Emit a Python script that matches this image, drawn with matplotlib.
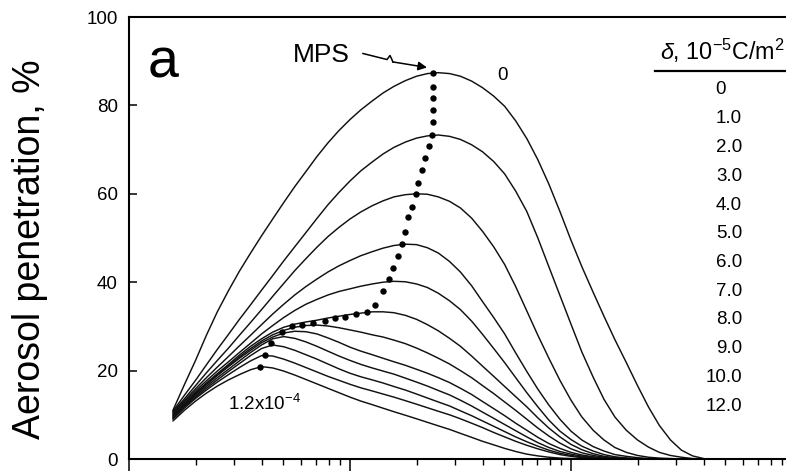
import matplotlib
matplotlib.use("Agg")
import matplotlib.pyplot as plt

plt.rcParams['font.family'] = ['Liberation Sans', 'DejaVu Sans']
plt.rcParams['mathtext.fontset'] = 'custom'
plt.rcParams['mathtext.rm'] = 'Liberation Sans'
plt.rcParams['mathtext.it'] = 'Liberation Sans:italic'
plt.rcParams['mathtext.default'] = 'regular'

# particle diameter (um)
diameter = [0.0158, 0.0178, 0.0200, 0.0224, 0.0251, 0.0282, 0.0316, 0.0355, 0.0398,
            0.0447, 0.0501, 0.0562, 0.0631, 0.0708, 0.0794, 0.0891, 0.100, 0.112,
            0.126, 0.141, 0.158, 0.178, 0.200, 0.224, 0.251, 0.282, 0.316, 0.355,
            0.398, 0.447, 0.501, 0.562, 0.631, 0.708, 0.794, 0.891, 1.00, 1.12,
            1.26, 1.41, 1.58, 1.78, 2.00, 2.24, 2.51, 2.82, 3.16, 3.55, 3.98]

# aerosol penetration (%) for each surface charge density delta (1e-5 C/m^2)
pen_0 = [11.0, 16.8, 22.3, 28.0, 33.3, 38.1, 42.5, 46.6, 50.5, 54.3, 58.0, 61.6, 65.0,
         68.4, 71.5, 74.3, 76.8, 79.0, 81.0, 82.8, 84.3, 85.6, 86.6, 87.2, 87.4, 87.2,
         86.6, 85.5, 84.0, 82.1, 79.8, 76.5, 72.5, 67.7, 62.2, 56.0, 49.5, 43.5, 37.7,
         32.3, 27.0, 21.8, 16.6, 11.8, 7.6, 4.3, 2.0, 0.7, 0.1]
pen_1 = [10.8, 14.4, 17.8, 21.3, 24.8, 28.2, 31.6, 34.9, 38.2, 41.5, 44.8, 48.0, 51.2,
         54.4, 57.5, 60.3, 62.9, 65.2, 67.2, 69.0, 70.5, 71.7, 72.6, 73.1, 73.3, 73.0,
         72.3, 71.1, 69.5, 67.3, 64.5, 60.6, 56.0, 50.0, 43.5, 37.0, 30.5, 24.2, 18.5,
         13.5, 9.5, 6.5, 4.3, 2.7, 1.5, 0.8, 0.4, 0.1, 0.0]
pen_2 = [10.6, 13.6, 16.6, 19.5, 22.3, 25.1, 28.0, 30.9, 33.8, 36.8, 39.7, 42.6, 45.3,
         47.9, 50.3, 52.4, 54.3, 55.9, 57.3, 58.4, 59.3, 59.8, 60.0, 59.9, 59.3, 58.3,
         56.8, 54.5, 51.5, 48.0, 44.0, 39.0, 33.5, 28.0, 22.8, 17.8, 13.3, 9.5, 6.5,
         4.3, 2.6, 1.5, 0.8, 0.4, 0.2, 0.1, 0.0, 0.0, 0.0]
pen_3 = [10.4, 13.2, 15.9, 18.4, 20.8, 23.2, 25.6, 28.0, 30.4, 32.8, 35.0, 37.1, 39.0,
         40.7, 42.3, 43.7, 44.9, 46.0, 46.9, 47.7, 48.3, 48.6, 48.5, 47.8, 46.6, 44.7,
         42.3, 39.2, 35.6, 32.0, 28.3, 24.0, 19.8, 15.8, 12.2, 9.0, 6.3, 4.3, 2.8,
         1.8, 1.0, 0.6, 0.3, 0.1, 0.05, 0.0, 0.0, 0.0, 0.0]
pen_4 = [10.2, 12.9, 15.4, 17.7, 19.9, 22.0, 24.1, 26.2, 28.3, 30.2, 32.0, 33.6, 35.0,
         36.1, 37.1, 37.9, 38.5, 39.1, 39.6, 40.0, 40.2, 40.1, 39.6, 38.8, 37.5, 35.8,
         33.8, 31.2, 28.2, 25.0, 21.8, 18.4, 15.0, 11.8, 8.8, 6.3, 4.4, 2.9, 1.8,
         1.0, 0.5, 0.25, 0.1, 0.0, 0.0, 0.0, 0.0, 0.0, 0.0]
pen_5 = [10.0, 12.6, 15.0, 17.2, 19.3, 21.4, 23.5, 25.5, 27.2, 28.7, 29.8, 30.5, 31.0,
         31.4, 31.9, 32.3, 32.7, 33.0, 33.3, 33.3, 33.1, 32.5, 31.6, 30.4, 29.0, 27.3,
         25.5, 23.3, 21.0, 18.7, 16.4, 14.1, 11.8, 9.3, 7.0, 5.0, 3.3, 2.1, 1.2,
         0.6, 0.3, 0.1, 0.05, 0.0, 0.0, 0.0, 0.0, 0.0, 0.0]
pen_6 = [9.8, 12.4, 14.8, 17.0, 19.1, 21.1, 23.1, 25.0, 26.7, 28.1, 29.1, 29.8, 30.2,
         30.3, 30.1, 29.7, 29.2, 28.7, 28.1, 27.6, 26.9, 26.1, 25.1, 24.0, 22.8, 21.5,
         20.0, 18.4, 16.6, 14.8, 12.9, 11.0, 9.0, 7.0, 5.2, 3.6, 2.3, 1.4, 0.8,
         0.4, 0.2, 0.1, 0.0, 0.0, 0.0, 0.0, 0.0, 0.0, 0.0]
pen_7 = [9.6, 12.2, 14.6, 16.8, 18.9, 20.9, 22.8, 24.6, 26.3, 27.6, 28.5, 28.9, 28.8,
         28.3, 27.4, 26.4, 25.3, 24.4, 23.6, 22.8, 22.0, 21.2, 20.3, 19.4, 18.4, 17.3,
         16.0, 14.6, 13.0, 11.4, 9.8, 8.1, 6.5, 4.9, 3.5, 2.4, 1.5, 0.9, 0.5,
         0.25, 0.1, 0.0, 0.0, 0.0, 0.0, 0.0, 0.0, 0.0, 0.0]
pen_8 = [9.4, 12.0, 14.3, 16.4, 18.4, 20.3, 22.2, 24.1, 25.8, 27.2, 27.7, 27.3, 26.5,
         25.5, 24.4, 23.3, 22.3, 21.4, 20.6, 19.9, 19.2, 18.3, 17.4, 16.5, 15.5, 14.5,
         13.3, 12.0, 10.6, 9.2, 7.8, 6.4, 5.0, 3.7, 2.6, 1.7, 1.1, 0.65, 0.35,
         0.15, 0.05, 0.0, 0.0, 0.0, 0.0, 0.0, 0.0, 0.0, 0.0]
pen_9 = [9.2, 11.8, 14.0, 16.0, 17.9, 19.8, 21.6, 23.4, 25.0, 25.8, 25.4, 24.6, 23.6,
         22.6, 21.5, 20.4, 19.4, 18.6, 17.9, 17.2, 16.4, 15.6, 14.7, 13.8, 12.9, 12.0,
         10.9, 9.8, 8.6, 7.4, 6.2, 5.0, 3.9, 2.9, 2.0, 1.3, 0.8, 0.45, 0.2,
         0.1, 0.0, 0.0, 0.0, 0.0, 0.0, 0.0, 0.0, 0.0, 0.0]
pen_10 = [9.0, 11.5, 13.7, 15.6, 17.4, 19.1, 20.7, 22.2, 23.4, 23.3, 22.6, 21.7, 20.7,
          19.7, 18.7, 17.8, 16.9, 16.1, 15.4, 14.7, 14.0, 13.2, 12.4, 11.6, 10.8, 10.0,
          9.1, 8.1, 7.1, 6.0, 5.0, 4.0, 3.1, 2.3, 1.6, 1.0, 0.6, 0.3, 0.15,
          0.0, 0.0, 0.0, 0.0, 0.0, 0.0, 0.0, 0.0, 0.0, 0.0]
pen_12 = [8.6, 11.0, 13.1, 14.9, 16.5, 17.9, 19.1, 20.2, 20.9, 20.6, 19.9, 19.0, 18.0,
          17.0, 16.0, 15.0, 14.0, 13.1, 12.3, 11.5, 10.7, 9.9, 9.1, 8.3, 7.5, 6.7,
          5.8, 4.9, 4.0, 3.2, 2.4, 1.7, 1.1, 0.7, 0.4, 0.2, 0.1, 0.0, 0.0,
          0.0, 0.0, 0.0, 0.0, 0.0, 0.0, 0.0, 0.0, 0.0, 0.0]

curves = [pen_0, pen_1, pen_2, pen_3, pen_4, pen_5, pen_6,
          pen_7, pen_8, pen_9, pen_10, pen_12]

# most penetrating size locus
mps_diameter = [0.0392, 0.0412, 0.0438, 0.0491, 0.0545, 0.0604, 0.0682, 0.0771,
                0.0855, 0.0949, 0.1064, 0.1190, 0.1297, 0.1406, 0.1506, 0.1570,
                0.1654, 0.1714, 0.1774, 0.1836, 0.1902, 0.1989, 0.2037, 0.2110,
                0.2185, 0.2285, 0.2343, 0.2382, 0.2382, 0.2382, 0.2382, 0.2367]
mps_penetration = [20.9, 23.5, 26.3, 28.8, 30.1, 30.3, 30.8, 31.3, 31.8, 32.2, 32.8,
                   33.3, 34.8, 38.0, 40.7, 43.3, 46.0, 48.6, 51.4, 54.8, 57.1, 60.0,
                   62.4, 65.4, 68.0, 70.8, 73.3, 76.3, 79.0, 81.6, 84.2, 87.3]

delta_labels = ['0', '1.0', '2.0', '3.0', '4.0', '5.0', '6.0', '7.0', '8.0',
                '9.0', '10.0', '12.0']

W, H = 786, 471
fig = plt.figure(figsize=(W / 100, H / 100), dpi=100)
ax = fig.add_axes([129 / W, 12 / H, 663 / W, 442 / H])

for pen in curves:
    ax.plot(diameter, pen, color='#111111', lw=1.05, solid_capstyle='round',
            solid_joinstyle='round')

ax.plot(mps_diameter, mps_penetration, linestyle='none', marker='o',
        markersize=4.6, color='black', markeredgewidth=0)

ax.set_xscale('log')
ax.set_xlim(0.01, 10)
ax.set_ylim(0, 100)
ax.set_yticks([0, 20, 40, 60, 80, 100])
ax.set_yticklabels(['0', '20', '40', '60', '80', '100'])

for s in ax.spines.values():
    s.set_linewidth(1.5)
ax.tick_params(axis='y', direction='in', length=5.5, width=1.1,
               labelsize=13.5, pad=8)
ax.tick_params(axis='x', which='major', direction='out', length=9, width=1.1,
               labelbottom=False)
ax.tick_params(axis='x', which='minor', direction='out', length=4.5, width=1.0,
               labelbottom=False)

fig.text(30 / W, (H - 249) / H, 'Aerosol penetration, %', rotation=90,
         ha='center', va='center', fontsize=27)

ax.text(0.0287, 0.864, 'a', transform=ax.transAxes, fontsize=40,
        ha='left', va='baseline')

ax.text(0.2474, 0.914, 'MPS', transform=ax.transAxes, fontsize=19,
        ha='left', va='center')
ax.plot([0.3529, 0.3891, 0.3937, 0.3982], [0.9174, 0.9038, 0.9129, 0.8982],
        transform=ax.transAxes, color='black', lw=1.1)
ax.annotate('', xy=(0.4495, 0.8858), xytext=(0.3975, 0.8985),
            xycoords='axes fraction',
            arrowprops=dict(arrowstyle='-|>', lw=1.1, color='black',
                            mutation_scale=13, shrinkA=0, shrinkB=0))

ax.text(0.5626, 0.8676, '0', transform=ax.transAxes, fontsize=13.5,
        ha='center', va='center')
ax.text(0.1493, 0.1244, r'1.2x10$^{-4}$', transform=ax.transAxes,
        fontsize=13.5, ha='left', va='center')

# charge density table
ax.text(0.801, 0.9027, r'$\mathit{\delta}$, 10$^{-5}$C/m$^{2}$',
        transform=ax.transAxes, fontsize=16.8, ha='left', va='baseline')
ax.plot([0.7934, 1.0], [0.8785, 0.8785], transform=ax.transAxes,
        color='black', lw=1.6, clip_on=False)
row_top_px, row_step_px = 90, 28.75
for i, lab in enumerate(delta_labels):
    yy = (459 - (row_top_px + i * row_step_px)) / 442
    if i == 0:
        ax.text(0.8839, yy, lab, transform=ax.transAxes, fontsize=13.5,
                ha='left', va='center')
    else:
        ax.text(0.9246, yy, lab, transform=ax.transAxes, fontsize=13.5,
                ha='right', va='center')

fig.savefig('out.png', dpi=100)
